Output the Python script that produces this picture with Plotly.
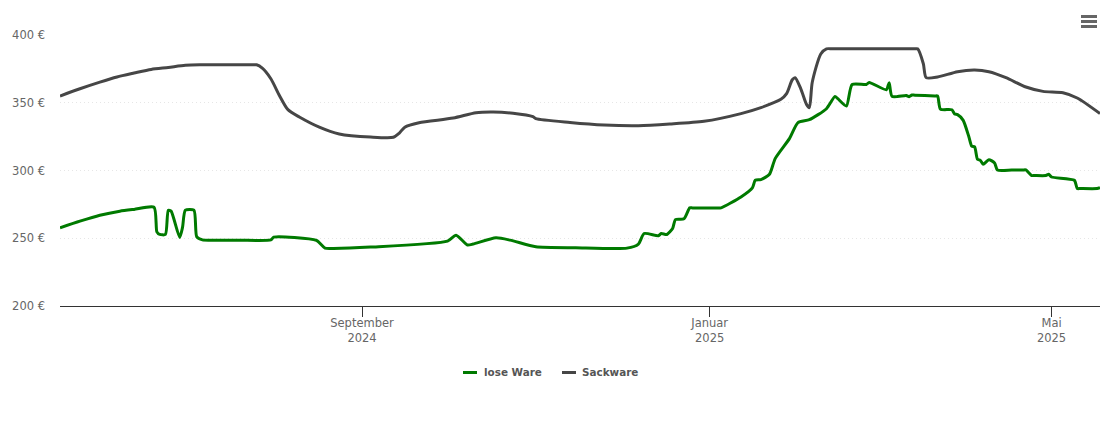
import plotly.graph_objects as go

lose_dates = [
    '2024-05-18','2024-05-25','2024-06-01','2024-06-08','2024-06-13','2024-06-20','2024-06-21','2024-06-22','2024-06-24',
    '2024-06-25','2024-06-26','2024-06-29','2024-06-30','2024-07-01','2024-07-04','2024-07-05','2024-07-07','2024-07-10','2024-07-20',
    '2024-07-31','2024-08-01','2024-08-16','2024-08-19','2024-08-22','2024-09-04','2024-10-01','2024-10-04','2024-10-08',
    '2024-10-10','2024-10-18','2024-10-23','2024-11-01','2024-11-15','2024-12-03','2024-12-07','2024-12-09','2024-12-14',
    '2024-12-15','2024-12-17','2024-12-19','2024-12-20','2024-12-23','2024-12-25','2024-12-26','2024-12-30','2025-01-04','2025-01-05','2025-01-12',
    '2025-01-16','2025-01-17','2025-01-19','2025-01-22','2025-01-24','2025-01-29','2025-02-01','2025-02-05',
    '2025-02-11','2025-02-14','2025-02-15','2025-02-18','2025-02-20','2025-02-25','2025-02-26','2025-03-04',
    '2025-03-05','2025-03-06','2025-03-11','2025-03-12','2025-03-13','2025-03-14','2025-03-21','2025-03-22','2025-03-23','2025-03-27',
    '2025-03-28','2025-03-29','2025-03-31','2025-04-02','2025-04-03','2025-04-04','2025-04-05','2025-04-06',
    '2025-04-07','2025-04-09','2025-04-11','2025-04-12','2025-04-17','2025-04-21','2025-04-22','2025-04-24','2025-04-25','2025-04-29','2025-04-30',
    '2025-05-01','2025-05-09','2025-05-10','2025-05-11','2025-05-17','2025-05-18',
]
lose_ware = [
    257.7,262.6,267,270,271.3,272.9,254.7,252.8,252.8,
    270.7,270,250.6,258,270.7,270.7,251,248.8,248.6,248.6,
    248.8,250.8,248.4,242.7,242.5,243.5,247.9,252.3,245,
    245.7,250.3,248.6,243.7,243,242.7,245.7,253.5,251.8,
    253.5,252.8,257.2,263.8,264.3,272.4,272.4,272.4,272.4,272.4,280.5,
    287.2,292.8,293.3,297.2,308.8,323.5,335.3,337.5,
    345.6,354.7,353,347.6,363.5,363.5,365,359.6,
    364.8,354.7,355.4,354.5,355.7,355.6,355,355,345.3,344.8,
    341.7,341.2,337,324.7,317.9,317.4,308.3,307.5,
    304.6,308,305.6,300.4,300.4,300.4,300.4,296.3,296.3,296.3,297.2,
    295.2,292.8,286.7,286.7,286.7,287.4,
]

sack_dates = [
    '2024-05-18','2024-05-25','2024-06-01','2024-06-07','2024-06-13','2024-06-19','2024-06-25','2024-07-01','2024-07-06','2024-07-15','2024-07-24','2024-07-26','2024-07-28','2024-07-31',
    '2024-08-03','2024-08-06','2024-08-10','2024-08-17','2024-08-24','2024-09-04','2024-09-12','2024-09-14',
    '2024-09-16','2024-09-21','2024-10-03','2024-10-11','2024-10-17','2024-10-24','2024-10-31','2024-11-01',
    '2024-11-13','2024-11-25','2024-12-07','2024-12-18','2024-12-30','2025-01-12','2025-01-19','2025-01-26',
    '2025-01-28','2025-01-30','2025-01-31','2025-02-02','2025-02-04','2025-02-05','2025-02-06','2025-02-09',
    '2025-02-11','2025-02-13','2025-02-20','2025-03-01','2025-03-10','2025-03-14','2025-03-15','2025-03-17','2025-03-18','2025-03-22','2025-03-29','2025-04-04','2025-04-09',
    '2025-04-15','2025-04-22','2025-04-28','2025-05-05','2025-05-10','2025-05-18',
]
sackware = [
    355,360.3,365.2,369,371.9,374.6,376,377.6,378,378,378,378,375.5,367.7,
    355.4,344.9,339.5,332,327,324.7,324.5,327.4,
    332,335.3,338.7,342.6,343.1,342.2,339.7,338.3,
    335.5,333.6,333.1,334.3,336.3,342,346.4,352.5,
    356.7,367,368.5,360.3,348.8,346.4,365,386,
    389.8,389.8,389.8,389.8,389.8,389.8,389.8,378.8,368.5,369,372.9,374.1,372.9,
    368.5,361.6,358.4,357.4,353.5,342,
]

month_ticks = ['2024-09-01','2025-01-01','2025-05-01']
month_labels = ['September<br>2024','Januar<br>2025','Mai<br>2025']
price_ticks = [200,250,300,350,400]
price_labels = ['200 €','250 €','300 €','350 €','400 €']
legend_names = ['lose Ware','Sackware']

font_name = 'DejaVu Sans'
green = '#007a00'
dark = '#464646'

fig = go.Figure()
fig.add_trace( go.Scatter( x=lose_dates ,y=lose_ware ,name=legend_names[0] ,mode='lines' ,showlegend=False
                          ,line=dict( color=green ,width=3 ,shape='spline' ,smoothing=0.6 ) ) )
fig.add_trace( go.Scatter( x=sack_dates ,y=sackware ,name=legend_names[1] ,mode='lines' ,showlegend=False
                          ,line=dict( color=dark ,width=3 ,shape='spline' ,smoothing=0.7 ) ) )

# page body has an 8px margin, so the figure sits at (8,8) in the window
fig.update_layout(
    width=1102 ,height=415 ,autosize=False
    ,margin=dict( l=52 ,r=10 ,t=26.5 ,b=117 )
    ,paper_bgcolor='white' ,plot_bgcolor='white'
    ,font=dict( family=font_name ,size=11.5 ,color='#666666' )
    ,xaxis=dict( range=['2024-05-18','2025-05-18'] ,tickmode='array' ,tickvals=month_ticks ,ticktext=month_labels
                ,showgrid=False ,showline=True ,linecolor='#333333' ,linewidth=1 ,automargin=False
                ,ticks='outside' ,ticklen=10 ,tickcolor='#333333' ,tickwidth=1 ,zeroline=False
                ,ticklabelstandoff=-4 )
    ,yaxis=dict( range=[200,400] ,tickmode='array' ,tickvals=price_ticks ,ticktext=price_labels ,automargin=False
                ,showgrid=True ,gridcolor='#e6e6e6' ,griddash='1px,3px' ,gridwidth=1 ,zeroline=False
                ,showline=False ,ticks='' ,ticklabelstandoff=14 )
)

# legend drawn by hand: the built-in key can't go below 30px
for name ,color ,key_x ,text_x in [ ( legend_names[0] ,green ,403 ,424 ) ,( legend_names[1] ,dark ,502 ,522 ) ] :
    fig.add_shape( type='line' ,xref='paper' ,yref='paper' ,xsizemode='pixel' ,ysizemode='pixel'
                  ,xanchor=0 ,yanchor=0 ,x0=key_x ,x1=key_x+14 ,y0=-66.5 ,y1=-66.5
                  ,line=dict( color=color ,width=3 ) )
    fig.add_annotation( text=f'<b>{name}</b>' ,xref='paper' ,yref='paper' ,x=text_x/1040 ,y=-66.5/271.5
                       ,xanchor='left' ,yanchor='middle' ,showarrow=False ,borderpad=0 ,borderwidth=0
                       ,font=dict( size=10.4 ,color='#555555' ) )

# export menu icon top right
for y_pos in [ 16 ,21 ,26 ] :
    fig.add_shape( type='line' ,xref='paper' ,yref='paper' ,xsizemode='pixel' ,ysizemode='pixel'
                  ,xanchor=1 ,yanchor=1 ,x0=-19 ,x1=-3 ,y0=34.5-y_pos ,y1=34.5-y_pos
                  ,line=dict( color='#666666' ,width=3 ) )

fig.write_html("out.html")
